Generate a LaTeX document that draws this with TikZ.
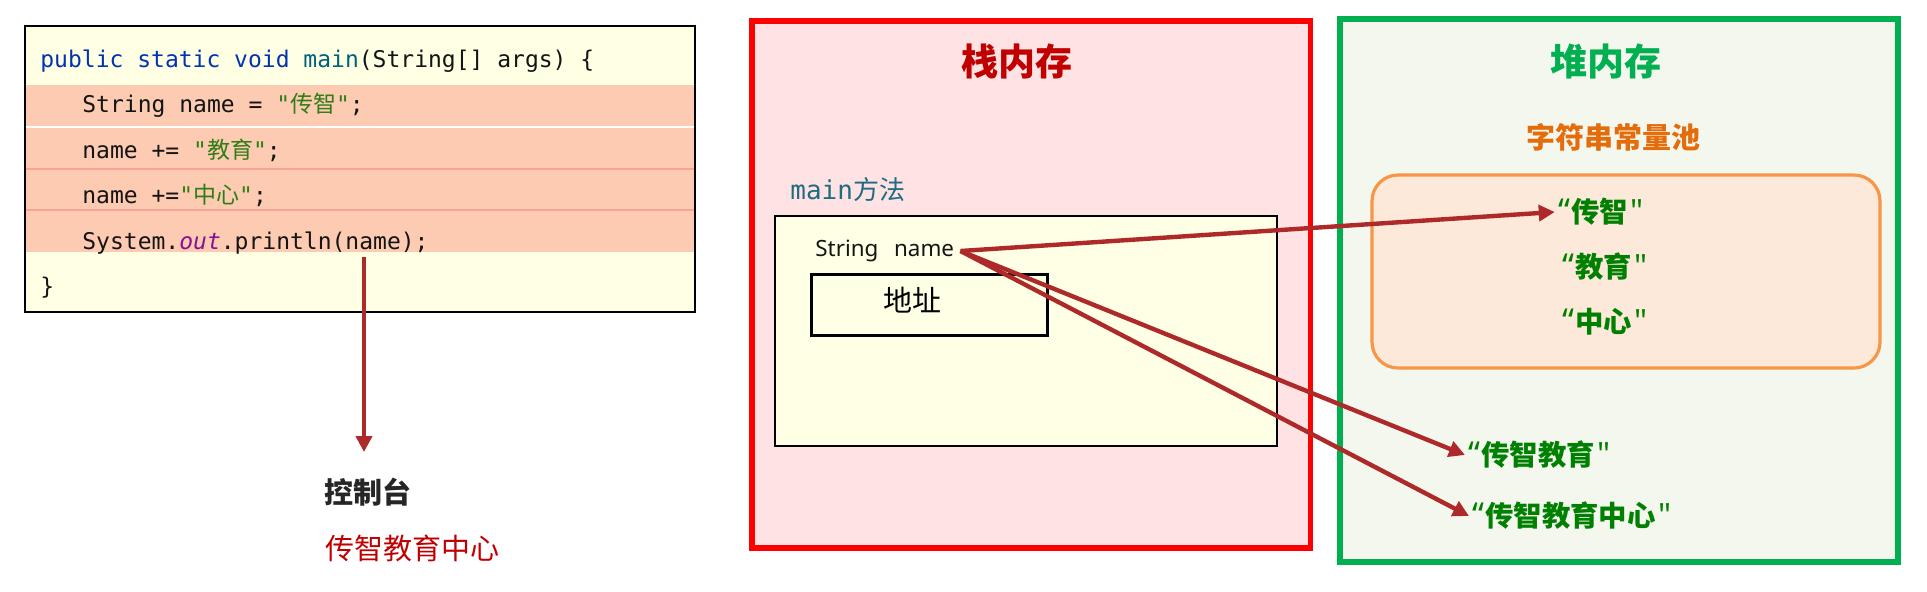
\documentclass[tikz,border=0pt]{standalone}
\usepackage{fontspec}
\setmainfont{Noto Sans}
\setmonofont{DejaVu Sans Mono}
\newfontfamily\cjk{Noto Sans CJK SC}
\newfontfamily\plainsans{Noto Sans}
\usetikzlibrary{arrows.meta}

\definecolor{codebg}{HTML}{FFFFE3}
\definecolor{rowbg}{HTML}{FDCBB2}
\definecolor{rowline}{HTML}{F7A395}
\definecolor{codeblack}{HTML}{141414}
\definecolor{kwblue}{HTML}{0033B3}
\definecolor{fnteal}{HTML}{00627A}
\definecolor{strgreen}{HTML}{2F7D17}
\definecolor{fieldpurple}{HTML}{871094}
\definecolor{arrowred}{HTML}{AE2A2A}
\definecolor{consolegray}{HTML}{262626}
\definecolor{outred}{HTML}{C00000}
\definecolor{stackred}{HTML}{FF0000}
\definecolor{stackbg}{HTML}{FFE2E3}
\definecolor{titlered}{HTML}{C00000}
\definecolor{heapgreen}{HTML}{00B050}
\definecolor{heapbg}{HTML}{F4F7EE}
\definecolor{poolorange}{HTML}{F79646}
\definecolor{poolbg}{HTML}{FDE9DA}
\definecolor{pooltext}{HTML}{E46C0A}
\definecolor{valgreen}{HTML}{008000}
\definecolor{frameyellow}{HTML}{FFFFE5}
\definecolor{labelteal}{HTML}{1F6B80}

\newcommand{\kw}[1]{\textcolor{kwblue}{#1}}
\newcommand{\jstr}[1]{\textcolor{strgreen}{"{\cjk #1}"}}
\newcommand{\heapstr}[1]{{\fontsize{16.5}{16}\selectfont“}\hspace{0.5pt}{\cjk\bfseries #1}\hspace{1.5pt}{\plainsans\fontsize{16}{16}\selectfont\bfseries "}}

\tikzset{
  code/.style={anchor=base west, inner sep=0pt, text=codeblack,
    font=\fontsize{11.5}{14}\selectfont\ttfamily},
  memtitle/.style={font=\fontsize{18.5}{22}\selectfont\cjk\bfseries},
  ref/.style={draw=arrowred, line width=2.2pt, -{Triangle[length=8pt,width=8pt]}},
  heapval/.style={text=valgreen, inner sep=1.5pt,
    font=\fontsize{14.2}{16}\selectfont\bfseries},
}

\begin{document}
\begin{tikzpicture}[x=0.5pt, y=-0.5pt]
\useasboundingbox (0,0) rectangle (1927,591);

% code
\fill[codebg] (25,26) rectangle (695,312);
\fill[rowbg] (25,85) rectangle (695,252);
\draw[white, line width=0.6pt] (25,127) -- (695,127);
\draw[rowline, line width=0.6pt] (25,169) -- (695,169);
\draw[rowline, line width=1pt] (25,210) -- (695,210);
\draw[line width=1pt] (25,26) rectangle (695,312);

\node[code] (sig) at (40,67) {\kw{public static void} \textcolor{fnteal}{main}(String[] args) \{};
\node[code] (decl) at (82,112.5) {String name = \jstr{传智};};
\node[code] (add1) at (82,158) {name += \jstr{教育};};
\node[code] (add2) at (82,203.5) {name +=\jstr{中心};};
\node[code] (print) at (82,249) {System.\textcolor{fieldpurple}{\itshape out}.println(name);};
\node[code] (close) at (40,294.5) {\}};

% console
\coordinate (printout) at (364,257);
\coordinate (printend) at (364,452);
\node[anchor=west, inner sep=0pt, text=consolegray,
  font=\fontsize{14.5}{17}\selectfont\cjk\bfseries] (console) at (324,492) {控制台};
\node[anchor=west, inner sep=0pt, text=outred,
  font=\fontsize{14.5}{17}\selectfont\cjk] (output) at (325,548) {传智教育中心};
\draw[ref] (printout) -- (printend);

% stack
\draw[line width=2.75pt, draw=stackred, fill=stackbg] (752,21) rectangle (1310.5,548);
\node[memtitle, text=titlered] (stack) at (1017,61) {栈内存};
\node[anchor=west, inner sep=0pt, text=labelteal, font=\fontsize{13}{15}\selectfont]
  (mainlbl) at (790,190) {\ttfamily main\cjk 方法};
\draw[line width=1pt, fill=frameyellow] (775,216) rectangle (1277,446);
\node[anchor=west, inner sep=3pt, text=codeblack, font=\fontsize{11.2}{13}\selectfont]
  (varname) at (809,251) {String\hspace{0.7em}name};
\draw[line width=1.5pt, fill=frameyellow] (811,274) rectangle (1047,335);
\node[font=\fontsize{14.5}{17}\selectfont\cjk] (addr) at (912,300) {地址};

% heap
\draw[line width=2.75pt, draw=heapgreen, fill=heapbg] (1340,19) rectangle (1898,562);
\node[memtitle, text=heapgreen] (heap) at (1606,61) {堆内存};
\node[text=pooltext, font=\fontsize{14.5}{17}\selectfont\cjk\bfseries] (pool) at (1613,137) {字符串常量池};
\draw[line width=1.6pt, draw=poolorange, fill=poolbg, rounded corners=13pt] (1372,175) rectangle (1880,368);
\node[heapval] (v1) at (1601,212) {\heapstr{传智}};
\node[heapval] (v2) at (1605,267) {\heapstr{教育}};
\node[heapval] (v3) at (1605,322) {\heapstr{中心}};
\node[heapval, anchor=west] (v12) at (1465,455) {\heapstr{传智教育}};
\node[heapval, anchor=west] (v123) at (1469,516) {\heapstr{传智教育中心}};

\draw[ref] (varname.east) -- (v1.west);
\draw[ref] (varname.east) -- (v12.west);
\draw[ref] (varname.east) -- (v123.west);
\end{tikzpicture}
\end{document}
